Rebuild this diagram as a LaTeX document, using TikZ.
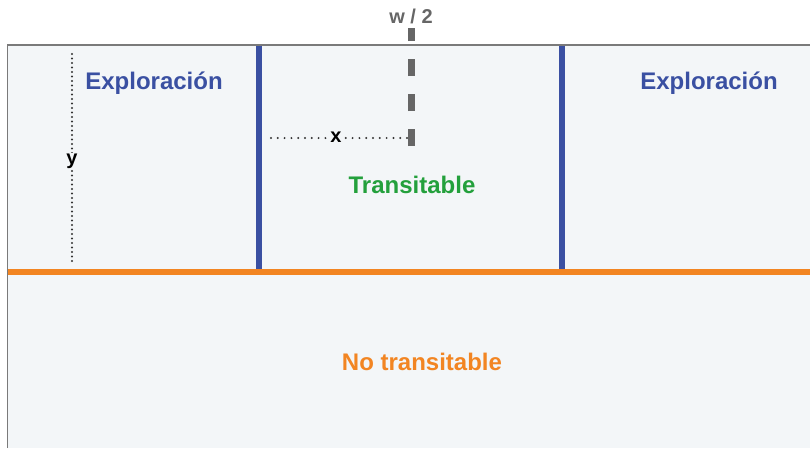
\documentclass[tikz,border=0pt]{standalone}
\usepackage{fontspec}
\setmainfont{Liberation Sans}
\definecolor{panel}{HTML}{F3F6F8}
\definecolor{frame}{HTML}{7A7A7A}
\definecolor{expblue}{HTML}{3A50A2}
\definecolor{roadorange}{HTML}{F28522}
\definecolor{transgreen}{HTML}{23A03C}
\definecolor{dimgray}{HTML}{666666}
\tikzset{
  region/.style={font=\bfseries\fontsize{24}{28}\selectfont, inner sep=0pt},
  dimlabel/.style={font=\bfseries\fontsize{20}{24}\selectfont, inner sep=1pt},
  dimline/.style={line width=2.2pt, dash pattern=on 0pt off 6.8pt, line cap=round, black!80},
  wall/.style={line width=6pt, expblue},
}
\begin{document}
\begin{tikzpicture}[x=1pt,y=-1pt]
\useasboundingbox (0,0) rectangle (810,448);
\fill[white] (0,0) rectangle (810,448);
\fill[panel] (7.5,45) rectangle (810,448);
\draw[frame, line width=1.3pt] (7.5,448) -- (7.5,45) -- (810,45);
% walls
\coordinate (wl1) at (259,45.5);
\coordinate (wl2) at (259,270);
\coordinate (wr1) at (562,45.5);
\coordinate (wr2) at (562,270);
\draw[wall] (wl1) -- (wl2);
\draw[wall] (wr1) -- (wr2);
% road edge
\coordinate (o1) at (7.5,272);
\coordinate (o2) at (810,272);
\draw[roadorange, line width=5.5pt] (o1) -- (o2);
% y dimension
\coordinate (y1) at (72,54);
\coordinate (y2) at (72,265);
\draw[dimline, dash pattern=on 0pt off 4.5pt] (y1) -- (y2);
\node[dimlabel, fill=panel, inner sep=0.5pt] (ylab) at (72,161) {y};
% x dimension
\coordinate (x1) at (271,138);
\coordinate (x2) at (408,138);
\draw[dimline] (x1) -- (x2);
\node[dimlabel, fill=panel, inner sep=0.5pt] (xlab) at (336,137.5) {x};
% w/2 dashed line
\node[dimlabel, text=dimgray] (wlab) at (411,16) {w / 2};
\coordinate (wt) at (411,28);
\coordinate (wb) at (411,146);
\draw[dimgray, line width=7pt, dash pattern=on 17pt off 18pt] (wb) -- (wt);
% region labels
\node[region, text=expblue] (exl) at (154,83) {Exploración};
\node[region, text=expblue] (exr) at (709,83) {Exploración};
\node[region, text=transgreen] (tr) at (412,185) {Transitable};
\node[region, text=roadorange] (nt) at (422,361.5) {No transitable};
\end{tikzpicture}
\end{document}
